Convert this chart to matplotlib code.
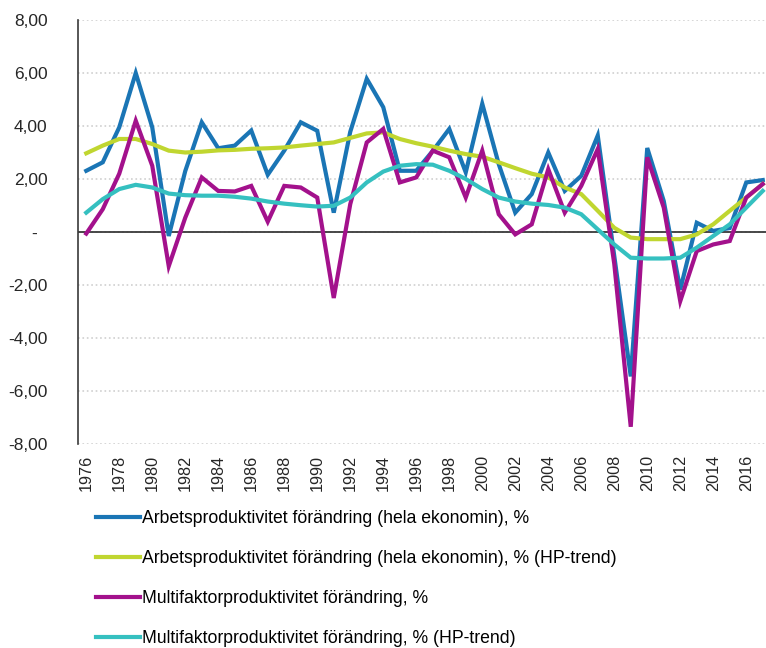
import numpy as np
import matplotlib
matplotlib.use("Agg")
import matplotlib.pyplot as plt

plt.rcParams['font.family'] = ['Liberation Sans', 'DejaVu Sans']

years = list(range(1976, 2018))

arbets = [2.31, 2.63, 3.95, 6.0, 3.95, -0.15, 2.3, 4.14, 3.16, 3.26,
          3.83, 2.16, 3.07, 4.14, 3.82, 0.73, 3.78, 5.78, 4.71, 2.31,
          2.31, 3.06, 3.89, 2.25, 4.84, 2.56, 0.73, 1.43, 3.0, 1.55,
          2.12, 3.64, -0.9, -5.45, 3.17, 1.17, -2.17, 0.35, 0.04, 0.15,
          1.87, 1.96]
arbets_hp = [2.97, 3.26, 3.51, 3.51, 3.32, 3.07, 3.0, 3.03, 3.08, 3.1,
             3.14, 3.16, 3.19, 3.26, 3.32, 3.38, 3.55, 3.72, 3.76, 3.51,
             3.35, 3.22, 3.07, 2.94, 2.84, 2.63, 2.41, 2.2, 2.06, 1.68,
             1.43, 0.8, 0.16, -0.21, -0.27, -0.27, -0.27, -0.09, 0.29, 0.8,
             1.3, 1.81]
multi = [-0.06, 0.86, 2.2, 4.2, 2.5, -1.29, 0.54, 2.06, 1.55, 1.53,
         1.74, 0.39, 1.74, 1.68, 1.3, -2.49, 1.05, 3.38, 3.89, 1.87,
         2.06, 3.07, 2.82, 1.3, 3.07, 0.67, -0.09, 0.29, 2.37, 0.73,
         1.74, 3.13, -1.2, -7.35, 2.82, 0.92, -2.61, -0.72, -0.47, -0.34,
         1.3, 1.81]
multi_hp = [0.73, 1.24, 1.62, 1.78, 1.68, 1.45, 1.39, 1.37, 1.37, 1.33,
            1.26, 1.15, 1.07, 1.01, 0.96, 0.99, 1.3, 1.87, 2.28, 2.5,
            2.56, 2.54, 2.31, 2.0, 1.62, 1.3, 1.15, 1.07, 1.02, 0.92,
            0.67, 0.1, -0.47, -0.97, -1.0, -1.0, -0.97, -0.59, -0.15, 0.29,
            0.92, 1.55]

labels = ["Arbetsproduktivitet förändring (hela ekonomin), %",
          "Arbetsproduktivitet förändring (hela ekonomin), % (HP-trend)",
          "Multifaktorproduktivitet förändring, %",
          "Multifaktorproduktivitet förändring, % (HP-trend)"]
colors = ['#1a75b5', '#c0d630', '#a3118c', '#35c0c0']

y_ticks = [8, 6, 4, 2, 0, -2, -4, -6, -8]
y_labels = ["8,00", "6,00", "4,00", "2,00", "-  ", "-2,00", "-4,00", "-6,00", "-8,00"]

fig = plt.figure(figsize=(7.66, 6.48), dpi=100)
ax = fig.add_axes([78 / 766, (648 - 444) / 648, (771 - 78) / 766, (444 - 20) / 648])

x = np.arange(len(years))
lines = []
for series, c, lab in zip([arbets, arbets_hp, multi, multi_hp], colors, labels):
    ln, = ax.plot(x, series, color=c, lw=3, label=lab, solid_joinstyle='miter', zorder=3)
    lines.append(ln)

ax.axhline(0, color='#3a3a3a', lw=1.3, zorder=2)
ax.set_xlim(-0.5, len(years) - 0.5)
ax.set_ylim(-8, 8)
ax.set_yticks(y_ticks)
ax.set_yticklabels(y_labels, fontsize=12.5, color='#262626')
ax.set_xticks(x[::2])
ax.set_xticklabels([str(y) for y in years[::2]], rotation=90, fontsize=11.7, color='#262626')
ax.tick_params(axis='y', length=0, pad=22)
ax.tick_params(axis='x', length=0, pad=8)
ax.grid(axis='y', color='#d0d0d0', ls=':', lw=1.2)
ax.set_axisbelow(True)
for s in ['top', 'right', 'bottom']:
    ax.spines[s].set_visible(False)
ax.spines['left'].set_color('#3a3a3a')
ax.spines['left'].set_linewidth(1.2)

fig.legend(handles=lines, loc='upper left', bbox_to_anchor=(96 / 766, (648 - 510) / 648),
           frameon=False, fontsize=12.7, handlelength=2.5, handletextpad=0.1,
           labelspacing=1.3, borderpad=0, borderaxespad=0)

fig.savefig("out.png", dpi=100)
